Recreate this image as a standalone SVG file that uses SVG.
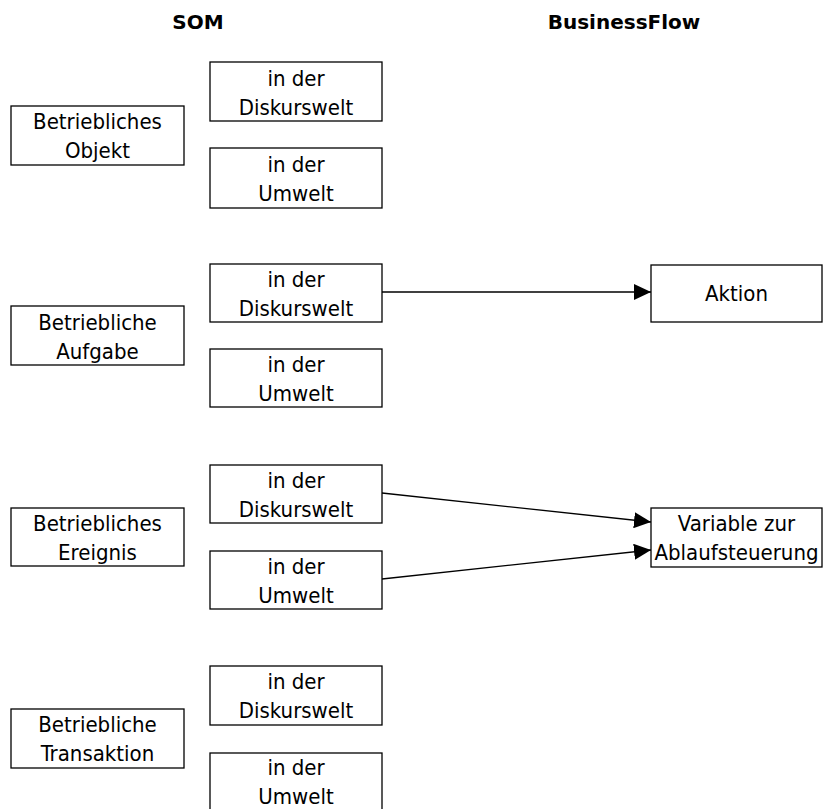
<svg xmlns="http://www.w3.org/2000/svg" width="823" height="809" viewBox="0 0 823 809">
  <style>
    .box { fill: #ffffff; stroke: #000000; stroke-width: 1.3; }
    .lbl { font-family: "DejaVu Sans Condensed", "DejaVu Sans", sans-serif; font-size: 22px; fill: #000000; text-anchor: middle; }
    .hdr { font-family: "DejaVu Sans", sans-serif; font-weight: bold; font-size: 20px; fill: #000000; text-anchor: middle; }
    .edge { stroke: #000000; stroke-width: 1.3; fill: none; marker-end: url(#arrow); }
  </style>
  <defs>
    <marker id="arrow" markerUnits="userSpaceOnUse" markerWidth="18" markerHeight="16" refX="17" refY="8" orient="auto">
      <path d="M0,0 L17,8 L0,16 Z" fill="#000000"/>
    </marker>
  </defs>

  <!-- column headings -->
  <text class="hdr" x="198" y="29">SOM</text>
  <text class="hdr" x="624" y="29">BusinessFlow</text>

  <!-- SOM: betriebliches Objekt -->
  <g id="objekt">
    <rect class="box" x="11" y="106" width="173" height="59"/>
    <text class="lbl" x="97.5" y="129">Betriebliches</text>
    <text class="lbl" x="97.5" y="158">Objekt</text>
  </g>
  <g id="objekt-diskurswelt">
    <rect class="box" x="210" y="62" width="172" height="59"/>
    <text class="lbl" x="296" y="86">in der</text>
    <text class="lbl" x="296" y="115">Diskurswelt</text>
  </g>
  <g id="objekt-umwelt">
    <rect class="box" x="210" y="148" width="172" height="60"/>
    <text class="lbl" x="296" y="172">in der</text>
    <text class="lbl" x="296" y="201">Umwelt</text>
  </g>

  <!-- SOM: betriebliche Aufgabe -->
  <g id="aufgabe">
    <rect class="box" x="11" y="306" width="173" height="59"/>
    <text class="lbl" x="97.5" y="330">Betriebliche</text>
    <text class="lbl" x="97.5" y="359">Aufgabe</text>
  </g>
  <g id="aufgabe-diskurswelt">
    <rect class="box" x="210" y="264" width="172" height="58"/>
    <text class="lbl" x="296" y="287">in der</text>
    <text class="lbl" x="296" y="316">Diskurswelt</text>
  </g>
  <g id="aufgabe-umwelt">
    <rect class="box" x="210" y="349" width="172" height="58"/>
    <text class="lbl" x="296" y="372">in der</text>
    <text class="lbl" x="296" y="401">Umwelt</text>
  </g>

  <!-- SOM: betriebliches Ereignis -->
  <g id="ereignis">
    <rect class="box" x="11" y="508" width="173" height="58"/>
    <text class="lbl" x="97.5" y="531">Betriebliches</text>
    <text class="lbl" x="97.5" y="560">Ereignis</text>
  </g>
  <g id="ereignis-diskurswelt">
    <rect class="box" x="210" y="465" width="172" height="58"/>
    <text class="lbl" x="296" y="488">in der</text>
    <text class="lbl" x="296" y="517">Diskurswelt</text>
  </g>
  <g id="ereignis-umwelt">
    <rect class="box" x="210" y="551" width="172" height="58"/>
    <text class="lbl" x="296" y="574">in der</text>
    <text class="lbl" x="296" y="603">Umwelt</text>
  </g>

  <!-- SOM: betriebliche Transaktion -->
  <g id="transaktion">
    <rect class="box" x="11" y="709" width="173" height="59"/>
    <text class="lbl" x="97.5" y="732">Betriebliche</text>
    <text class="lbl" x="97.5" y="761">Transaktion</text>
  </g>
  <g id="transaktion-diskurswelt">
    <rect class="box" x="210" y="666" width="172" height="59"/>
    <text class="lbl" x="296" y="689">in der</text>
    <text class="lbl" x="296" y="718">Diskurswelt</text>
  </g>
  <g id="transaktion-umwelt">
    <rect class="box" x="210" y="753" width="172" height="60"/>
    <text class="lbl" x="296" y="775">in der</text>
    <text class="lbl" x="296" y="804">Umwelt</text>
  </g>

  <!-- BusinessFlow elements -->
  <g id="aktion">
    <rect class="box" x="651" y="265" width="171" height="57"/>
    <text class="lbl" x="736.5" y="301">Aktion</text>
  </g>
  <g id="variable">
    <rect class="box" x="651" y="508" width="171" height="59"/>
    <text class="lbl" x="736.5" y="531">Variable zur</text>
    <text class="lbl" x="736.5" y="560">Ablaufsteuerung</text>
  </g>

  <!-- mappings -->
  <g id="connectors">
    <line class="edge" x1="382" y1="292" x2="651" y2="292"/>
    <line class="edge" x1="382" y1="493" x2="651" y2="522"/>
    <line class="edge" x1="382" y1="579" x2="651" y2="550"/>
  </g>
</svg>
